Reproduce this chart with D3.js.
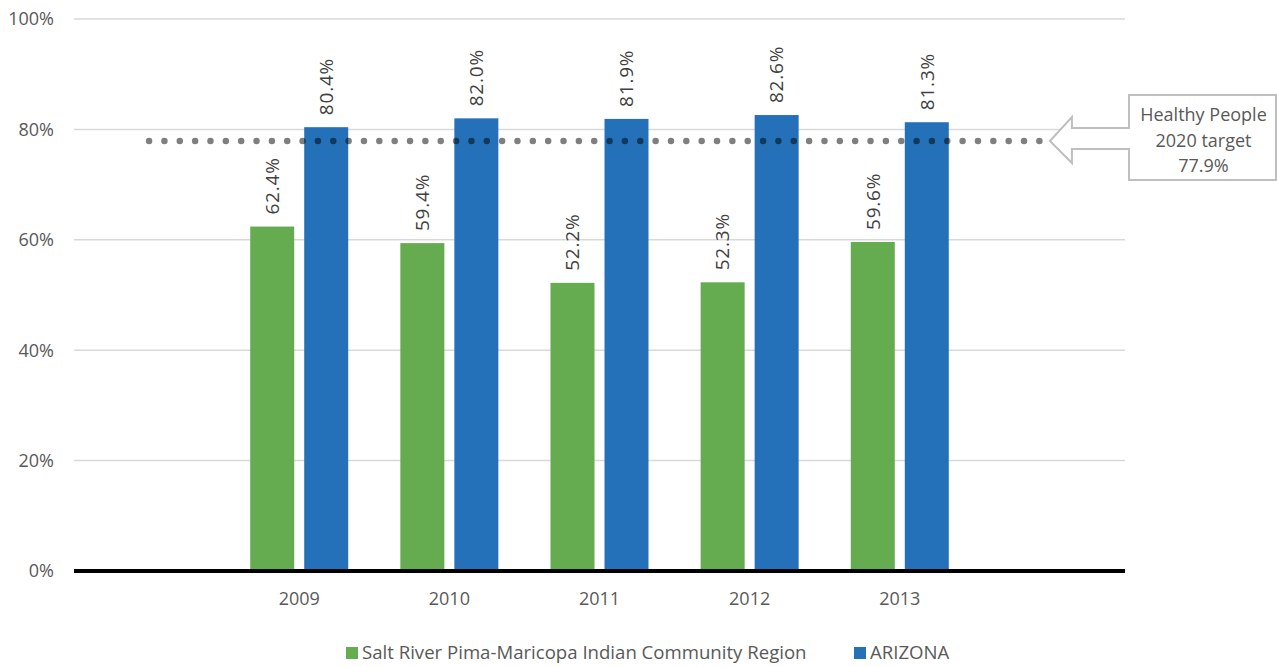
<!DOCTYPE html>
<html>
<head>
<meta charset="utf-8">
<script src="https://cdn.jsdelivr.net/npm/d3@7"></script>
<style>
  body { margin: 0; background: #fff; }
  text { font-family: 'Open Sans', sans-serif; fill: #595959; }
</style>
</head>
<body>
<svg id="chart"></svg>
<script>
const years = ['2009', '2010', '2011', '2012', '2013'];
const saltRiver = [62.4, 59.4, 52.2, 52.3, 59.6];
const arizona = [80.4, 82.0, 81.9, 82.6, 81.3];
const yTicks = [0, 20, 40, 60, 80, 100];
const target = 77.9;
const seriesNames = ['Salt River Pima-Maricopa Indian Community Region', 'ARIZONA'];
const colors = ['#65ac50', '#2471b9'];

const width = 1277;
const height = 667;

const svg = d3.select('#chart').attr('width', width).attr('height', height);

// blank slots either side of the years
const slots = ['pre'].concat(years, ['post']);
const x = d3.scaleBand().domain(slots).range([74, 1125]);
const y = d3.scaleLinear().domain([0, 100]).range([571, 19]);

// grid
svg.append('g')
  .selectAll('line')
  .data(yTicks.filter(d => d > 0))
  .join('line')
  .attr('x1', 74).attr('x2', 1125)
  .attr('y1', d => y(d)).attr('y2', d => y(d))
  .attr('stroke', '#d9d9d9')
  .attr('stroke-width', 1.5);

svg.append('g')
  .selectAll('text')
  .data(yTicks)
  .join('text')
  .attr('x', 54)
  .attr('y', d => y(d))
  .attr('dy', '0.36em')
  .attr('text-anchor', 'end')
  .style('font-size', '18px')
  .text(d => d + '%');

const barW = 44, gap = 10;
const series = [saltRiver, arizona];

series.forEach((vals, si) => {
  const offset = si === 0 ? -(barW + gap / 2) : gap / 2;
  const g = svg.append('g');
  g.selectAll('rect')
    .data(vals)
    .join('rect')
    .attr('x', (d, i) => x(years[i]) + x.bandwidth() / 2 + offset)
    .attr('y', d => y(d))
    .attr('width', barW)
    .attr('height', d => y(0) - y(d))
    .attr('fill', colors[si]);
  g.selectAll('text')
    .data(vals)
    .join('text')
    .attr('transform', (d, i) => `translate(${x(years[i]) + x.bandwidth() / 2 + offset + barW / 2},${y(d) - 12}) rotate(-90)`)
    .attr('dy', '0.36em')
    .style('font-size', '19px')
    .style('letter-spacing', '0.8px')
    .style('fill', '#404040')
    .text(d => d.toFixed(1) + '%');
});

// baseline
svg.append('line')
  .attr('x1', 74).attr('x2', 1125)
  .attr('y1', y(0)).attr('y2', y(0))
  .attr('stroke', '#000')
  .attr('stroke-width', 4);

// year labels
svg.append('g')
  .selectAll('text')
  .data(years)
  .join('text')
  .attr('x', d => x(d) + x.bandwidth() / 2)
  .attr('y', 605)
  .attr('text-anchor', 'middle')
  .style('font-size', '18px')
  .text(d => d);

// target dotted line
const tx0 = x('pre') + x.bandwidth() / 2;
const tx1 = x('post') + x.bandwidth() / 2;
svg.append('line')
  .attr('x1', tx0).attr('x2', tx1 - 9)
  .attr('y1', y(target)).attr('y2', y(target))
  .attr('stroke', '#000')
  .attr('stroke-opacity', 0.5)
  .attr('stroke-width', 6.5)
  .attr('stroke-linecap', 'round')
  .attr('stroke-dasharray', '0 15.35');

// callout arrow + box
const ty = y(target);
const tip = tx1;
const boxL = 1129, boxR = 1276, boxT = 95, boxB = 180;
const headX = tip + 22;
const pts = [
  [tip, ty],
  [headX, ty - 24],
  [headX, ty - 13],
  [boxL, ty - 13],
  [boxL, boxT],
  [boxR, boxT],
  [boxR, boxB],
  [boxL, boxB],
  [boxL, ty + 8],
  [headX, ty + 8],
  [headX, ty + 22]
];
svg.append('path')
  .attr('d', d3.line()(pts) + 'Z')
  .attr('fill', '#fff')
  .attr('stroke', '#bfbfbf')
  .attr('stroke-width', 2);

svg.append('text')
  .attr('x', (boxL + boxR) / 2)
  .attr('y', 121)
  .attr('text-anchor', 'middle')
  .style('font-size', '18px')
  .selectAll('tspan')
  .data(['Healthy People', '2020 target', target.toFixed(1) + '%'])
  .join('tspan')
  .attr('x', (boxL + boxR) / 2 + 1)
  .attr('dy', (d, i) => i === 0 ? 0 : 25.5)
  .text(d => d);

// legend
const legendX = [346, 854];
const legend = svg.append('g');
seriesNames.forEach((name, i) => {
  legend.append('rect')
    .attr('x', legendX[i]).attr('y', 647)
    .attr('width', 12).attr('height', 12)
    .attr('fill', colors[i]);
  legend.append('text')
    .attr('x', legendX[i] + 16)
    .attr('y', 659)
    .style('font-size', '18.6px')
    .text(name);
});
</script>
</body>
</html>
